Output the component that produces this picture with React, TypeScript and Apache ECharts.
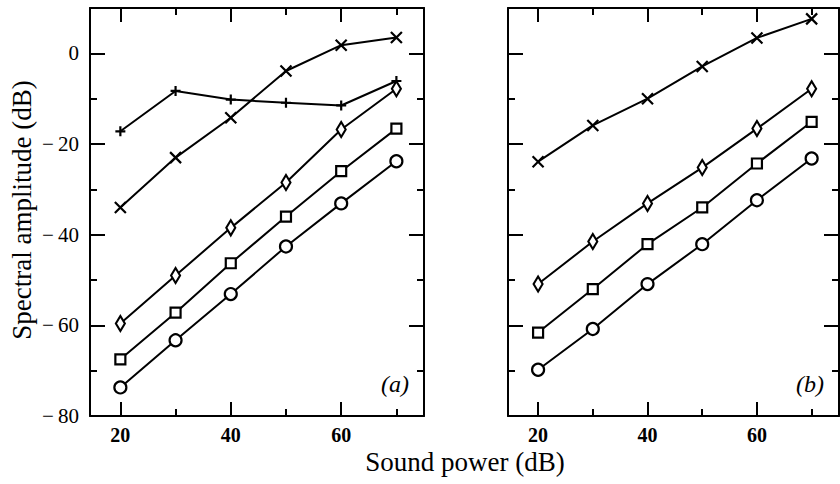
import React, { useEffect, useRef } from "react";
import * as echarts from "echarts";

// Sound power levels (dB) on the x axis
const powerLevels = [20, 30, 40, 50, 60, 70];

// Panel (a)
const aCross = [-34, -23, -14.2, -3.9, 1.8, 3.5];
const aPlus = [-17.2, -8.3, -10.2, -10.9, -11.5, -6.1];
const aDiamond = [-59.6, -49, -38.5, -28.5, -16.8, -7.8];
const aSquare = [-67.5, -57.2, -46.3, -36, -26, -16.6];
const aCircle = [-73.7, -63.3, -53.1, -42.6, -33.1, -23.8];

// Panel (b)
const bCross = [-23.9, -15.9, -10, -2.9, 3.4, 7.6];
const bDiamond = [-50.9, -41.5, -33.1, -25.2, -16.6, -7.8];
const bSquare = [-61.6, -52, -42.1, -34, -24.3, -15.1];
const bCircle = [-69.8, -60.8, -50.9, -42.1, -32.4, -23.2];

// Tick values
const xMajorTicks = [20, 40, 60];
const xMinorTicks = [30, 50, 70];
const yMajorTicks = [-80, -60, -40, -20, 0];
const yMinorTicks = [-70, -50, -30, -10];

const X_MIN = 14.5;
const X_MAX = 75;
const Y_MIN = -80;
const Y_MAX = 10;

const FONT = "'Liberation Serif', 'Times New Roman', serif";

const SYM_CROSS = "path://M0,0L10,10M10,0L0,10";
const SYM_PLUS = "path://M5,0L5,10M0,5L10,5";

function xAxis(gridIndex: number, position: string, ticks: number[], len: number, label: boolean, line: boolean) {
  return {
    type: "value",
    gridIndex,
    position,
    min: X_MIN,
    max: X_MAX,
    splitLine: { show: false },
    axisLine: { show: line, onZero: false, lineStyle: { color: "#000", width: 2 } },
    axisTick: { show: true, inside: true, length: len, customValues: ticks, lineStyle: { color: "#000", width: 2 } },
    axisLabel: {
      show: label,
      customValues: ticks,
      margin: 9,
      color: "#000",
      fontFamily: FONT,
      fontSize: 20,
      fontWeight: "bold",
    },
  };
}

function yAxis(gridIndex: number, position: string, ticks: number[], len: number, label: boolean, line: boolean) {
  return {
    type: "value",
    gridIndex,
    position,
    min: Y_MIN,
    max: Y_MAX,
    splitLine: { show: false },
    axisLine: { show: line, onZero: false, lineStyle: { color: "#000", width: 2 } },
    axisTick: { show: true, inside: true, length: len, customValues: ticks, lineStyle: { color: "#000", width: 2 } },
    axisLabel: {
      show: label,
      customValues: ticks,
      margin: 11,
      color: "#000",
      fontFamily: FONT,
      fontSize: 21,
      formatter: (v: number) => (v < 0 ? "\u2212\u2009" + Math.abs(v) : String(v)),
    },
  };
}

function series(name: string, vals: number[], xi: number, yi: number, symbol: string, size: any) {
  return {
    name,
    type: "line",
    xAxisIndex: xi,
    yAxisIndex: yi,
    data: powerLevels.map((x, i) => [x, vals[i]]),
    symbol,
    symbolSize: size,
    showSymbol: true,
    lineStyle: { color: "#000", width: 2 },
    itemStyle: { color: "#fff", borderColor: "#000", borderWidth: 2.2 },
    z: 3,
  };
}

export default function App() {
  const ref = useRef<HTMLDivElement>(null);
  useEffect(() => {
    if (!ref.current) return;
    const chart = echarts.init(ref.current, null, { renderer: "svg" });
    const xAxes: any[] = [];
    const yAxes: any[] = [];
    [0, 1].forEach((g) => {
      xAxes.push(xAxis(g, "bottom", xMajorTicks, 14, true, true));
      xAxes.push(xAxis(g, "bottom", xMinorTicks, 7, false, false));
      xAxes.push(xAxis(g, "top", xMajorTicks, 14, false, true));
      xAxes.push(xAxis(g, "top", xMinorTicks, 7, false, false));
      yAxes.push(yAxis(g, "left", yMajorTicks, 15, g === 0, true));
      yAxes.push(yAxis(g, "left", yMinorTicks, 7, false, false));
      yAxes.push(yAxis(g, "right", yMajorTicks, 15, false, true));
      yAxes.push(yAxis(g, "right", yMinorTicks, 7, false, false));
    });
    const option: any = {
      animation: false,
      backgroundColor: "#fff",
      grid: [
        { left: 90, top: 8, width: 334, height: 408 },
        { left: 508, top: 8, width: 331, height: 408 },
      ],
      xAxis: xAxes,
      yAxis: yAxes,
      series: [
        series("a-cross", aCross, 0, 0, SYM_CROSS, 11),
        series("a-plus", aPlus, 0, 0, SYM_PLUS, 10),
        series("a-diamond", aDiamond, 0, 0, "diamond", [9, 15]),
        series("a-square", aSquare, 0, 0, "rect", 10),
        series("a-circle", aCircle, 0, 0, "circle", 12),
        series("b-cross", bCross, 4, 4, SYM_CROSS, 11),
        series("b-diamond", bDiamond, 4, 4, "diamond", [9, 15]),
        series("b-square", bSquare, 4, 4, "rect", 10),
        series("b-circle", bCircle, 4, 4, "circle", 12),
      ],
      graphic: [
        {
          type: "text",
          x: 22,
          y: 210,
          rotation: Math.PI / 2,
          style: {
            text: "Spectral amplitude (dB)",
            fontFamily: FONT,
            fontSize: 27,
            fill: "#000",
            align: "center",
            verticalAlign: "middle",
          },
        },
        {
          type: "text",
          x: 465,
          y: 462,
          style: {
            text: "Sound power (dB)",
            fontFamily: FONT,
            fontSize: 27,
            fill: "#000",
            align: "center",
            verticalAlign: "middle",
          },
        },
        {
          type: "text",
          x: 395,
          y: 384,
          style: {
            text: "(a)",
            fontFamily: FONT,
            fontSize: 24,
            fontStyle: "italic",
            fill: "#000",
            align: "center",
            verticalAlign: "middle",
          },
        },
        {
          type: "text",
          x: 810,
          y: 384,
          style: {
            text: "(b)",
            fontFamily: FONT,
            fontSize: 24,
            fontStyle: "italic",
            fill: "#000",
            align: "center",
            verticalAlign: "middle",
          },
        },
      ],
    };
    chart.setOption(option);
    return () => chart.dispose();
  }, []);
  return (
    <div
      ref={ref}
      style={{ position: "absolute", left: 0, top: 0, width: 840, height: 484 }}
    />
  );
}
